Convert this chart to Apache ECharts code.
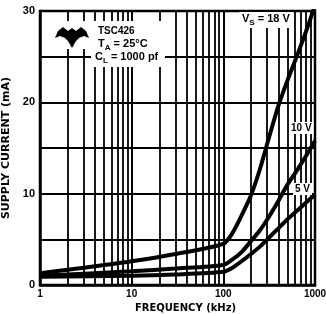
<!DOCTYPE html>
<html>
<head>
<meta charset="utf-8">
<script src="https://cdn.jsdelivr.net/npm/echarts@6/dist/echarts.min.js"></script>
<style>
  html, body { margin: 0; padding: 0; background: #fff; }
  #charts { width: 326px; height: 314px; }
</style>
</head>
<body>
<div id="charts"></div>
<script>
// curves (kHz, mA)
const freq18 = [1, 3, 10, 30, 100, 126, 158, 200, 251, 316, 398, 501, 631, 794, 1000]
const curr18 = [1.3, 1.9, 2.6, 3.4, 4.5, 5.7, 7.6, 9.8, 12.7, 16.2, 19.6, 22.4, 25, 27.7, 30.6]
const freq10 = [1, 10, 30, 100, 126, 158, 200, 251, 316, 398, 501, 631, 794, 1000]
const curr10 = [1.0, 1.5, 1.8, 2.2, 2.8, 3.6, 4.8, 6.0, 7.5, 9.2, 11.0, 12.5, 14.1, 15.8]
const freq5 = [1, 10, 30, 100, 126, 158, 200, 251, 316, 398, 501, 631, 794, 1000]
const curr5 = [0.9, 1.0, 1.15, 1.45, 1.9, 2.6, 3.4, 4.2, 5.2, 6.2, 7.2, 8.1, 9.0, 9.9]
const minorFreq = [2, 3, 4, 5, 6, 7, 8, 9, 20, 30, 40, 50, 60, 70, 80, 90, 200, 300, 400, 500, 600, 700, 800, 900]
const yTicks = [0, 10, 20, 30]

const FONT = 'Liberation Sans'

function pairs(xs, ys) {
  return xs.map((x, i) => [x, ys[i]])
}

function curve(name, xs, ys) {
  return {
    name: name,
    type: 'line',
    data: pairs(xs, ys),
    symbol: 'none',
    smooth: 0.25,
    clip: true,
    z: 5,
    lineStyle: { color: '#000', width: 4 }
  }
}

const sub = {
  m: { fontFamily: FONT, fontWeight: 'bold', fontSize: 11, fill: '#000', lineHeight: 14, verticalAlign: 'top' },
  s: { fontFamily: FONT, fontWeight: 'bold', fontSize: 8, fill: '#000', lineHeight: 14, verticalAlign: 'bottom' }
}

const charts = echarts.init(document.getElementById('charts'))
const option = {
  animation: false,
  backgroundColor: '#fff',
  grid: {
    left: 40,
    right: 11,
    top: 11,
    bottom: 29,
    outerBoundsMode: 'none',
    containLabel: false,
    show: true,
    borderColor: '#000',
    borderWidth: 2.5
  },
  xAxis: {
    type: 'log',
    logBase: 10,
    min: 1,
    max: 1000,
    name: 'FREQUENCY (kHz)',
    nameLocation: 'middle',
    nameGap: 13,
    nameTextStyle: { color: '#000', fontFamily: 'DejaVu Sans', fontWeight: 'bold', fontSize: 10, padding: [0, 0, 0, 16] },
    axisLine: { show: true, lineStyle: { color: '#000', width: 2.5 } },
    axisTick: { show: false },
    axisLabel: {
      color: '#000',
      fontFamily: FONT,
      fontWeight: 'bold',
      fontSize: 10,
      margin: 4,
      formatter: v => String(v)
    },
    splitLine: { show: true, lineStyle: { color: '#000', width: 2 } }
  },
  yAxis: {
    type: 'value',
    min: 0,
    max: 30,
    interval: 5,
    name: 'SUPPLY CURRENT (mA)',
    nameLocation: 'middle',
    nameGap: 27,
    nameTextStyle: { color: '#000', fontFamily: 'DejaVu Sans', fontWeight: 'bold', fontSize: 11 },
    axisLine: { show: true, lineStyle: { color: '#000', width: 2.5 } },
    axisTick: { show: false },
    axisLabel: {
      color: '#000',
      fontFamily: FONT,
      fontWeight: 'bold',
      fontSize: 11,
      margin: 5,
      formatter: v => (yTicks.indexOf(v) >= 0 ? String(v) : '')
    },
    splitLine: { show: true, lineStyle: { color: '#000', width: 2 } }
  },
  series: [
    {
      name: 'grid',
      type: 'line',
      data: [],
      silent: true,
      z: 1,
      markLine: {
        silent: true,
        symbol: ['none', 'none'],
        label: { show: false },
        lineStyle: { color: '#000', width: 1.8, type: 'solid' },
        data: minorFreq.map(f => ({ xAxis: f }))
      }
    },
    curve('18 V', freq18, curr18),
    curve('10 V', freq10, curr10),
    curve('5 V', freq5, curr5)
  ],
  graphic: [
    // white patches behind the notes
    { type: 'rect', z: 100, shape: { x: 52, y: 21, width: 113, height: 28 }, style: { fill: '#fff' } },
    { type: 'rect', z: 100, shape: { x: 91, y: 48, width: 74, height: 19 }, style: { fill: '#fff' } },
    {
      type: 'polygon',
      z: 101,
      shape: {
        points: [[55, 38], [58, 31], [63, 27], [68, 31], [72, 28], [76, 31], [81, 27], [86, 31], [89, 38],
          [84, 36], [79, 38], [76, 41], [72, 48], [68, 41], [65, 38], [60, 36]]
      },
      style: { fill: '#000' }
    },
    {
      type: 'text', z: 101, left: 98, top: 26,
      style: { text: 'TSC426', fill: '#000', font: 'bold 10px ' + FONT }
    },
    {
      type: 'text', z: 101, left: 98, top: 38,
      style: { text: '{m|T}{s|A}{m| = 25°C}', rich: sub }
    },
    {
      type: 'text', z: 101, left: 95, top: 51,
      style: { text: '{m|C}{s|L}{m| = 1000 pf}', rich: sub }
    },
    {
      type: 'text', z: 101, left: 239, top: 12,
      style: {
        text: '{m|V}{s|S}{m| = 18 V}',
        backgroundColor: '#fff',
        padding: [1, 3, 1, 3],
        rich: sub
      }
    },
    {
      type: 'text', z: 101, left: 289, top: 122,
      style: { text: '10 V', fill: '#000', font: 'bold 10px ' + FONT, backgroundColor: '#fff', padding: [1, 2, 1, 2] }
    },
    {
      type: 'text', z: 101, left: 293, top: 183,
      style: { text: '5 V', fill: '#000', font: 'bold 10px ' + FONT, backgroundColor: '#fff', padding: [1, 2, 1, 2] }
    }
  ]
}
charts.setOption(option)
</script>
</body>
</html>
